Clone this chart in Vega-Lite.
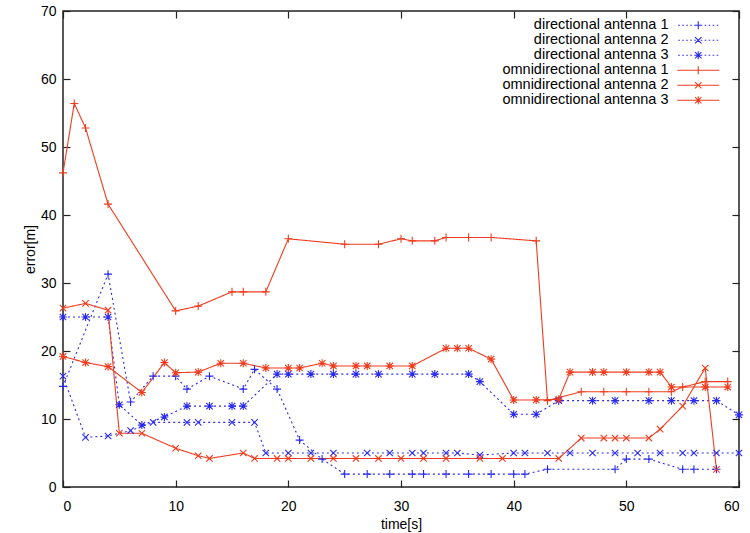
{
 "$schema": "https://vega.github.io/schema/vega-lite/v6.json",
 "width": 676, "height": 476,
 "autosize": {"type": "none"},
 "padding": {"left": 63, "top": 11, "right": 11, "bottom": 46},
 "background": "white",
 "config": {
  "view": {"stroke": "#222", "strokeWidth": 1.5},
  "font": "Liberation Sans",
  "axis": {"grid": false, "domain": false, "tickColor": "#222", "tickSize": -7, "tickWidth": 1.2, "labelFontSize": 14, "labelColor": "#000", "titleFontSize": 14, "titleFontWeight": "normal", "titleColor": "#000"},
  "legend": {"title": null, "orient": "none", "legendX": 628, "legendY": 7, "labelAlign": "right", "labelOffset": -37, "labelFontSize": 14.5, "labelLimit": 0, "rowPadding": 0, "symbolSize": 64, "symbolStrokeWidth": 1.1, "padding": 0}
 },
 "datasets": {
  "d": [
   {"s":"directional antenna 1","t":0,"v":14.8},{"s":"directional antenna 1","t":4,"v":31.3},{"s":"directional antenna 1","t":6,"v":12.5},{"s":"directional antenna 1","t":8,"v":16.3},{"s":"directional antenna 1","t":10,"v":16.3},{"s":"directional antenna 1","t":11,"v":14.4},{"s":"directional antenna 1","t":13,"v":16.3},{"s":"directional antenna 1","t":16,"v":14.4},{"s":"directional antenna 1","t":17,"v":17.3},{"s":"directional antenna 1","t":19,"v":14.4},{"s":"directional antenna 1","t":21,"v":6.9},{"s":"directional antenna 1","t":23,"v":4.1},{"s":"directional antenna 1","t":25,"v":1.9},{"s":"directional antenna 1","t":27,"v":1.9},{"s":"directional antenna 1","t":29,"v":1.9},{"s":"directional antenna 1","t":31,"v":1.9},{"s":"directional antenna 1","t":32,"v":1.9},{"s":"directional antenna 1","t":34,"v":1.9},{"s":"directional antenna 1","t":36,"v":1.9},{"s":"directional antenna 1","t":38,"v":1.9},{"s":"directional antenna 1","t":40,"v":1.9},{"s":"directional antenna 1","t":41,"v":1.9},{"s":"directional antenna 1","t":43,"v":2.6},{"s":"directional antenna 1","t":49,"v":2.6},{"s":"directional antenna 1","t":50,"v":4.1},{"s":"directional antenna 1","t":52,"v":4.1},{"s":"directional antenna 1","t":55,"v":2.6},{"s":"directional antenna 1","t":56,"v":2.6},{"s":"directional antenna 1","t":58,"v":2.6},
   {"s":"directional antenna 2","t":0,"v":16.3},{"s":"directional antenna 2","t":2,"v":7.3},{"s":"directional antenna 2","t":4,"v":7.5},{"s":"directional antenna 2","t":6,"v":8.3},{"s":"directional antenna 2","t":8,"v":9.5},{"s":"directional antenna 2","t":11,"v":9.5},{"s":"directional antenna 2","t":12,"v":9.5},{"s":"directional antenna 2","t":15,"v":9.5},{"s":"directional antenna 2","t":17,"v":9.5},{"s":"directional antenna 2","t":18,"v":5.0},{"s":"directional antenna 2","t":20,"v":5.0},{"s":"directional antenna 2","t":22,"v":5.0},{"s":"directional antenna 2","t":24,"v":5.0},{"s":"directional antenna 2","t":27,"v":5.0},{"s":"directional antenna 2","t":29,"v":5.0},{"s":"directional antenna 2","t":31,"v":5.0},{"s":"directional antenna 2","t":32,"v":5.0},{"s":"directional antenna 2","t":34,"v":5.0},{"s":"directional antenna 2","t":35,"v":5.0},{"s":"directional antenna 2","t":37,"v":4.7},{"s":"directional antenna 2","t":40,"v":5.0},{"s":"directional antenna 2","t":41,"v":5.0},{"s":"directional antenna 2","t":43,"v":5.0},{"s":"directional antenna 2","t":45,"v":5.0},{"s":"directional antenna 2","t":47,"v":5.0},{"s":"directional antenna 2","t":49,"v":5.0},{"s":"directional antenna 2","t":51,"v":5.0},{"s":"directional antenna 2","t":53,"v":5.0},{"s":"directional antenna 2","t":55,"v":5.0},{"s":"directional antenna 2","t":56,"v":5.0},{"s":"directional antenna 2","t":58,"v":5.0},{"s":"directional antenna 2","t":60,"v":5.0},
   {"s":"directional antenna 3","t":0,"v":25.0},{"s":"directional antenna 3","t":2,"v":25.0},{"s":"directional antenna 3","t":4,"v":25.0},{"s":"directional antenna 3","t":5,"v":12.1},{"s":"directional antenna 3","t":7,"v":9.1},{"s":"directional antenna 3","t":9,"v":10.3},{"s":"directional antenna 3","t":11,"v":11.9},{"s":"directional antenna 3","t":13,"v":11.9},{"s":"directional antenna 3","t":15,"v":11.9},{"s":"directional antenna 3","t":16,"v":11.9},{"s":"directional antenna 3","t":19,"v":16.6},{"s":"directional antenna 3","t":20,"v":16.6},{"s":"directional antenna 3","t":22,"v":16.6},{"s":"directional antenna 3","t":24,"v":16.6},{"s":"directional antenna 3","t":26,"v":16.6},{"s":"directional antenna 3","t":28,"v":16.6},{"s":"directional antenna 3","t":31,"v":16.6},{"s":"directional antenna 3","t":33,"v":16.6},{"s":"directional antenna 3","t":36,"v":16.6},{"s":"directional antenna 3","t":37,"v":15.5},{"s":"directional antenna 3","t":40,"v":10.7},{"s":"directional antenna 3","t":42,"v":10.7},{"s":"directional antenna 3","t":44,"v":12.7},{"s":"directional antenna 3","t":47,"v":12.7},{"s":"directional antenna 3","t":49,"v":12.7},{"s":"directional antenna 3","t":52,"v":12.7},{"s":"directional antenna 3","t":54,"v":12.7},{"s":"directional antenna 3","t":56,"v":12.7},{"s":"directional antenna 3","t":58,"v":12.7},{"s":"directional antenna 3","t":60,"v":10.6},
   {"s":"omnidirectional antenna 1","t":0,"v":46.2},{"s":"omnidirectional antenna 1","t":1,"v":56.4},{"s":"omnidirectional antenna 1","t":2,"v":52.8},{"s":"omnidirectional antenna 1","t":4,"v":41.6},{"s":"omnidirectional antenna 1","t":10,"v":25.9},{"s":"omnidirectional antenna 1","t":12,"v":26.6},{"s":"omnidirectional antenna 1","t":15,"v":28.7},{"s":"omnidirectional antenna 1","t":16,"v":28.7},{"s":"omnidirectional antenna 1","t":18,"v":28.7},{"s":"omnidirectional antenna 1","t":20,"v":36.5},{"s":"omnidirectional antenna 1","t":25,"v":35.7},{"s":"omnidirectional antenna 1","t":28,"v":35.7},{"s":"omnidirectional antenna 1","t":30,"v":36.5},{"s":"omnidirectional antenna 1","t":31,"v":36.2},{"s":"omnidirectional antenna 1","t":33,"v":36.2},{"s":"omnidirectional antenna 1","t":34,"v":36.7},{"s":"omnidirectional antenna 1","t":36,"v":36.7},{"s":"omnidirectional antenna 1","t":38,"v":36.7},{"s":"omnidirectional antenna 1","t":42,"v":36.2},{"s":"omnidirectional antenna 1","t":43,"v":12.7},{"s":"omnidirectional antenna 1","t":46,"v":14.0},{"s":"omnidirectional antenna 1","t":48,"v":14.0},{"s":"omnidirectional antenna 1","t":50,"v":14.0},{"s":"omnidirectional antenna 1","t":52,"v":14.0},{"s":"omnidirectional antenna 1","t":54,"v":14.0},{"s":"omnidirectional antenna 1","t":55,"v":14.7},{"s":"omnidirectional antenna 1","t":57,"v":15.5},{"s":"omnidirectional antenna 1","t":59,"v":15.5},
   {"s":"omnidirectional antenna 2","t":0,"v":26.3},{"s":"omnidirectional antenna 2","t":2,"v":27.0},{"s":"omnidirectional antenna 2","t":4,"v":26.0},{"s":"omnidirectional antenna 2","t":5,"v":7.9},{"s":"omnidirectional antenna 2","t":7,"v":7.9},{"s":"omnidirectional antenna 2","t":10,"v":5.7},{"s":"omnidirectional antenna 2","t":12,"v":4.6},{"s":"omnidirectional antenna 2","t":13,"v":4.2},{"s":"omnidirectional antenna 2","t":16,"v":5.0},{"s":"omnidirectional antenna 2","t":17,"v":4.2},{"s":"omnidirectional antenna 2","t":19,"v":4.2},{"s":"omnidirectional antenna 2","t":20,"v":4.2},{"s":"omnidirectional antenna 2","t":22,"v":4.2},{"s":"omnidirectional antenna 2","t":24,"v":4.2},{"s":"omnidirectional antenna 2","t":26,"v":4.2},{"s":"omnidirectional antenna 2","t":28,"v":4.2},{"s":"omnidirectional antenna 2","t":30,"v":4.2},{"s":"omnidirectional antenna 2","t":32,"v":4.2},{"s":"omnidirectional antenna 2","t":34,"v":4.2},{"s":"omnidirectional antenna 2","t":37,"v":4.2},{"s":"omnidirectional antenna 2","t":39,"v":4.2},{"s":"omnidirectional antenna 2","t":44,"v":4.2},{"s":"omnidirectional antenna 2","t":46,"v":7.2},{"s":"omnidirectional antenna 2","t":48,"v":7.2},{"s":"omnidirectional antenna 2","t":49,"v":7.2},{"s":"omnidirectional antenna 2","t":50,"v":7.2},{"s":"omnidirectional antenna 2","t":52,"v":7.2},{"s":"omnidirectional antenna 2","t":53,"v":8.5},{"s":"omnidirectional antenna 2","t":55,"v":11.9},{"s":"omnidirectional antenna 2","t":57,"v":17.5},{"s":"omnidirectional antenna 2","t":58,"v":2.6},
   {"s":"omnidirectional antenna 3","t":0,"v":19.2},{"s":"omnidirectional antenna 3","t":2,"v":18.3},{"s":"omnidirectional antenna 3","t":4,"v":17.7},{"s":"omnidirectional antenna 3","t":7,"v":13.9},{"s":"omnidirectional antenna 3","t":9,"v":18.3},{"s":"omnidirectional antenna 3","t":10,"v":16.8},{"s":"omnidirectional antenna 3","t":12,"v":16.9},{"s":"omnidirectional antenna 3","t":14,"v":18.2},{"s":"omnidirectional antenna 3","t":16,"v":18.2},{"s":"omnidirectional antenna 3","t":18,"v":17.5},{"s":"omnidirectional antenna 3","t":20,"v":17.5},{"s":"omnidirectional antenna 3","t":21,"v":17.5},{"s":"omnidirectional antenna 3","t":23,"v":18.2},{"s":"omnidirectional antenna 3","t":24,"v":17.8},{"s":"omnidirectional antenna 3","t":26,"v":17.8},{"s":"omnidirectional antenna 3","t":27,"v":17.8},{"s":"omnidirectional antenna 3","t":29,"v":17.8},{"s":"omnidirectional antenna 3","t":31,"v":17.8},{"s":"omnidirectional antenna 3","t":34,"v":20.4},{"s":"omnidirectional antenna 3","t":35,"v":20.4},{"s":"omnidirectional antenna 3","t":36,"v":20.4},{"s":"omnidirectional antenna 3","t":38,"v":18.8},{"s":"omnidirectional antenna 3","t":40,"v":12.8},{"s":"omnidirectional antenna 3","t":42,"v":12.8},{"s":"omnidirectional antenna 3","t":44,"v":12.9},{"s":"omnidirectional antenna 3","t":45,"v":16.9},{"s":"omnidirectional antenna 3","t":47,"v":16.9},{"s":"omnidirectional antenna 3","t":48,"v":16.9},{"s":"omnidirectional antenna 3","t":50,"v":16.9},{"s":"omnidirectional antenna 3","t":52,"v":16.9},{"s":"omnidirectional antenna 3","t":53,"v":16.9},{"s":"omnidirectional antenna 3","t":54,"v":14.7},{"s":"omnidirectional antenna 3","t":57,"v":14.7},{"s":"omnidirectional antenna 3","t":59,"v":14.7}
  ]
 },
 "data": {"name": "d"},
 "layer": [
  {
   "mark": {"type": "line", "strokeWidth": 1.1},
   "encoding": {
    "x": {"field": "t", "type": "quantitative", "scale": {"domain": [0, 60], "nice": false, "zero": false}, "axis": {"orient": "bottom", "values": [0,10,20,30,40,50,60], "title": "time[s]", "labelPadding": 19, "titlePadding": 4}},
    "y": {"field": "v", "type": "quantitative", "scale": {"domain": [0, 70], "nice": false}, "axis": {"orient": "left", "values": [0,10,20,30,40,50,60,70], "title": "error[m]", "labelPadding": 14, "titlePadding": 3}},
    "color": {"field": "s", "type": "nominal", "scale": {"domain": ["directional antenna 1","directional antenna 2","directional antenna 3","omnidirectional antenna 1","omnidirectional antenna 2","omnidirectional antenna 3"], "range": ["#2a2aee","#2a2aee","#2a2aee","#f03c1e","#f03c1e","#f03c1e"]}, "legend": {
      "encode": {"symbols": {"update": {
        "fill": {"value": "transparent"},
        "strokeDash": {"value": []},
        "shape": {"signal": "(indexof(datum.value,'omni')==0 ? 'M-5.25,0H5.25' : 'M-5,0H-4.6M-4,0H-3.6M-3,0H-2.6M-2,0H-1.6M-1,0H-0.6M0.6,0H1M1.6,0H2M2.6,0H3M3.6,0H4M4.6,0H5') + (slice(datum.value,-1)=='1' ? 'M-1,0H1M0,-1V1' : slice(datum.value,-1)=='2' ? 'M-0.8,-0.8L0.8,0.8M-0.8,0.8L0.8,-0.8' : 'M-0.8,-0.8L0.8,0.8M-0.8,0.8L0.8,-0.8M-1,0H1M0,-1V1')"}
      }}}}},
    "strokeDash": {"field": "s", "type": "nominal", "scale": {"domain": ["omnidirectional antenna 1","omnidirectional antenna 2","omnidirectional antenna 3","directional antenna 1","directional antenna 2","directional antenna 3"], "range": [[1,0],[1,0],[1,0],[2,3],[2,3],[2,3]]}, "legend": null}
   }
  },
  {
   "mark": {"type": "point", "filled": false, "size": 64, "strokeWidth": 1.1, "opacity": 1},
   "encoding": {
    "x": {"field": "t", "type": "quantitative", "axis": {"orient": "top", "values": [0,10,20,30,40,50,60], "labels": false, "title": null}},
    "y": {"field": "v", "type": "quantitative", "axis": {"orient": "right", "values": [0,10,20,30,40,50,60,70], "labels": false, "title": null}},
    "color": {"field": "s", "type": "nominal"},
    "shape": {"field": "s", "type": "nominal", "scale": {"domain": ["omnidirectional antenna 3","omnidirectional antenna 2","omnidirectional antenna 1","directional antenna 3","directional antenna 2","directional antenna 1"], "range": ["M-0.8,-0.8L0.8,0.8M-0.8,0.8L0.8,-0.8M-1,0H1M0,-1V1","M-0.8,-0.8L0.8,0.8M-0.8,0.8L0.8,-0.8","M-1,0H1M0,-1V1","M-0.8,-0.8L0.8,0.8M-0.8,0.8L0.8,-0.8M-1,0H1M0,-1V1","M-0.8,-0.8L0.8,0.8M-0.8,0.8L0.8,-0.8","M-1,0H1M0,-1V1"]}, "legend": null}
   }
  }
 ],
 "resolve": {"axis": {"x": "independent", "y": "independent"}}
}
